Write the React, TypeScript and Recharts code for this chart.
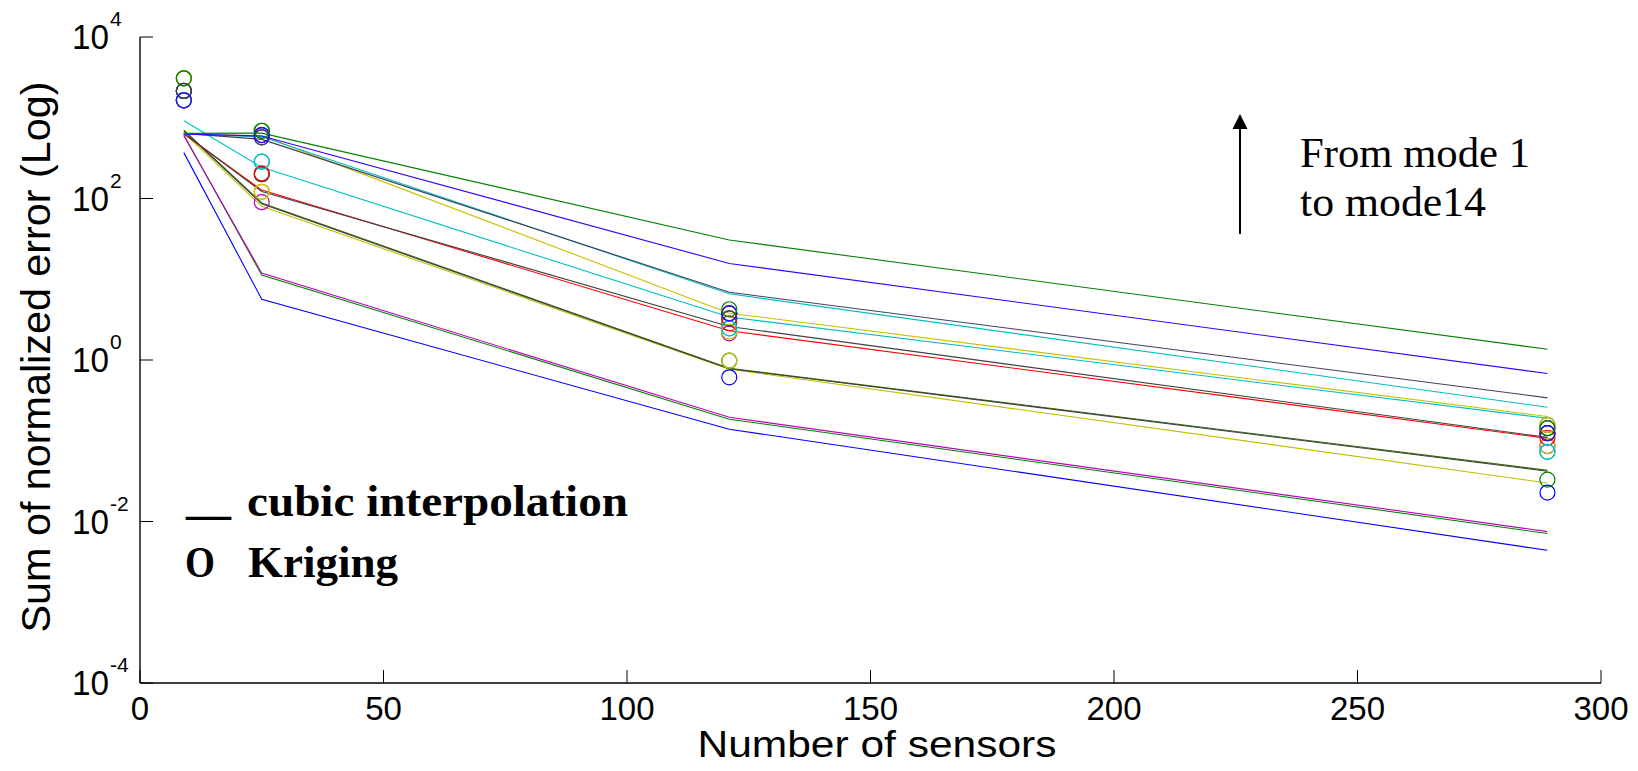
import React from 'react';
import { ComposedChart, Line, XAxis, YAxis } from 'recharts';

// Number of sensors (x positions of the samples)
const sensors = [9, 25, 121, 289];

// Cubic interpolation error per mode (lines)
const cubic1 = [370, 5.65, 0.139, 0.0044];
const cubic2 = [610, 11.3, 0.185, 0.0071];
const cubic3 = [600, 11.9, 0.195, 0.0075];
const cubic4 = [650, 80, 0.77, 0.03];
const cubic5 = [700, 88, 0.79, 0.043];
const cubic6 = [690, 86, 0.78, 0.042];
const cubic7 = [630, 127, 2.3, 0.107];
const cubic8 = [640, 122, 2.6, 0.11];
const cubic9 = [920, 243, 3.4, 0.19];
const cubic10 = [630, 600, 3.8, 0.2];
const cubic11 = [630, 580, 6.6, 0.26];
const cubic12 = [640, 540, 6.9, 0.34];
const cubic13 = [630, 594, 15.7, 0.68];
const cubic14 = [640, 645, 30.6, 1.36];

// Kriging error per mode (circles)
const kriging1 = [1645, 611, 0.61, 0.0228];
const kriging2 = [2150, 690, 0.98, 0.033];
const kriging3 = [1645, 90, 2.14, 0.086];
const kriging4 = [3080, 121, 0.98, 0.086];
const kriging5 = [3080, 200, 3.28, 0.157];
const kriging6 = [2150, 200, 3.28, 0.143];
const kriging7 = [1645, 205, 2.85, 0.109];
const kriging8 = [2150, 572, 3.78, 0.124];
const kriging9 = [1645, 286, 2.47, 0.073];
const kriging10 = [3080, 121, 2.24, 0.157];
const kriging11 = [1645, 286, 2.47, 0.073];
const kriging12 = [2150, 572, 3.78, 0.124];
const kriging13 = [1645, 611, 3.78, 0.124];
const kriging14 = [3080, 690, 4.25, 0.143];

const modeColors = [
  '#0000FF', '#008000', '#BF00BF', '#BFBF00', '#2F6A00', '#404040', '#FF0000',
  '#404040', '#00BFBF', '#C8C000', '#00BFBF', '#404060', '#3300FF', '#008000',
];

const xTicks = [0, 50, 100, 150, 200, 250, 300];
const yTicks = [1e-4, 1e-2, 1, 1e2, 1e4];

const xLabel = 'Number of sensors';
const yLabel = 'Sum of normalized error (Log)';
const legendLine = 'cubic interpolation';
const legendCircle = 'Kriging';
const noteLine1 = 'From mode 1';
const noteLine2 = 'to mode14';

const cubicSeries = [cubic1, cubic2, cubic3, cubic4, cubic5, cubic6, cubic7, cubic8, cubic9, cubic10, cubic11, cubic12, cubic13, cubic14];
const krigingSeries = [kriging1, kriging2, kriging3, kriging4, kriging5, kriging6, kriging7, kriging8, kriging9, kriging10, kriging11, kriging12, kriging13, kriging14];

const data = sensors.map((s, i) => {
  const row: Record<string, number> = { sensors: s };
  cubicSeries.forEach((arr, m) => { row['c' + (m + 1)] = arr[i]; });
  krigingSeries.forEach((arr, m) => { row['k' + (m + 1)] = arr[i]; });
  return row;
});

const SANS = '"Liberation Sans", Arial, Helvetica, sans-serif';
const SERIF = '"Liberation Serif", "Times New Roman", serif';

const XTick = (props: any) => {
  const { x, y, payload } = props;
  return (
    <g>
      <line x1={x} x2={x} y1={y} y2={y - 13} stroke="#000" strokeWidth={1} />
      <text x={x} y={y + 37} textAnchor="middle" fontSize={33} fontFamily={SANS} fill="#000">
        {payload.value}
      </text>
    </g>
  );
};

const YTick = (props: any) => {
  const { x, y, payload } = props;
  const exp = Math.round(Math.log10(payload.value));
  return (
    <g>
      <line x1={x} x2={x + 13} y1={y} y2={y} stroke="#000" strokeWidth={1} />
      <text x={x - 68} y={y + 12} fontSize={35} fontFamily={SANS} fill="#000" textLength={37} lengthAdjust="spacingAndGlyphs">
        10
      </text>
      <text x={x - 30} y={y - 11} fontSize={21} fontFamily={SANS} fill="#000">
        {String(exp)}
      </text>
    </g>
  );
};

const makeCircle = (color: string, m: number) => (p: any) => {
  if (p.cx == null || p.cy == null) return <g key={`e${m}-${p.index}`} />;
  return (
    <circle
      key={`k${m}-${p.index}`}
      cx={p.cx}
      cy={p.cy}
      r={7.5}
      fill="none"
      stroke={color}
      strokeWidth={1.2}
    />
  );
};

export default function App() {
  return (
    <div style={{ position: 'absolute', left: 0, top: 0, width: 1638, height: 771, background: '#fff' }}>
      <ComposedChart
        width={1638}
        height={771}
        data={data}
        margin={{ top: 37, right: 37, bottom: 28, left: 40 }}
      >
        <XAxis
          dataKey="sensors"
          type="number"
          domain={[0, 300]}
          ticks={xTicks}
          interval={0}
          allowDataOverflow
          height={60}
          tickSize={0}
          tickMargin={0}
          tickLine={false}
          axisLine={{ stroke: '#000', strokeWidth: 1.4 }}
          tick={<XTick />}
        />
        <XAxis
          xAxisId="top"
          orientation="top"
          dataKey="sensors"
          type="number"
          domain={[0, 300]}
          allowDataOverflow
          height={0}
          tick={false}
          tickLine={false}
          axisLine={{ stroke: '#000', strokeWidth: 1.2 }}
        />
        <YAxis
          type="number"
          scale="log"
          domain={[1e-4, 1e4]}
          ticks={yTicks}
          interval={0}
          allowDataOverflow
          width={100}
          tickSize={0}
          tickMargin={0}
          tickLine={false}
          axisLine={{ stroke: '#000', strokeWidth: 1.4 }}
          tick={<YTick />}
        />
        <YAxis
          yAxisId="right"
          orientation="right"
          type="number"
          scale="log"
          domain={[1e-4, 1e4]}
          allowDataOverflow
          width={0}
          tick={false}
          tickLine={false}
          axisLine={{ stroke: '#000', strokeWidth: 1.2 }}
        />
        {cubicSeries.map((_, m) => (
          <Line
            key={`c${m}`}
            type="linear"
            dataKey={`c${m + 1}`}
            stroke={modeColors[m]}
            strokeWidth={1.1}
            dot={false}
            activeDot={false}
            isAnimationActive={false}
          />
        ))}
        {krigingSeries.map((_, m) => (
          <Line
            key={`k${m}`}
            type="linear"
            dataKey={`k${m + 1}`}
            stroke="none"
            strokeWidth={0}
            dot={makeCircle(modeColors[m], m)}
            activeDot={false}
            isAnimationActive={false}
          />
        ))}
      </ComposedChart>
      <svg
        width={1638}
        height={771}
        style={{ position: 'absolute', left: 0, top: 0, pointerEvents: 'none' }}
      >
        <text x={877} y={757} textAnchor="middle" fontSize={36} fontFamily={SANS} textLength={359} lengthAdjust="spacingAndGlyphs">
          {xLabel}
        </text>
        <text
          x={50}
          y={357}
          transform="rotate(-90, 50, 357)"
          textAnchor="middle"
          fontSize={40}
          fontFamily={SANS}
          textLength={551}
          lengthAdjust="spacingAndGlyphs"
        >
          {yLabel}
        </text>
        <text x={186} y={514} fontSize={45} fontWeight="bold" fontFamily={SERIF}>__</text>
        <text x={247} y={516} fontSize={45} fontWeight="bold" fontFamily={SERIF} textLength={381} lengthAdjust="spacingAndGlyphs">
          {legendLine}
        </text>
        <text x={185} y={577} fontSize={44} fontWeight="bold" fontFamily={SERIF} textLength={30} lengthAdjust="spacingAndGlyphs">O</text>
        <text x={248} y={577} fontSize={45} fontWeight="bold" fontFamily={SERIF}>{legendCircle}</text>
        <line x1={1240} y1={234} x2={1240} y2={126} stroke="#000" strokeWidth={2} />
        <polygon points="1240,114 1232.5,129 1247.5,129" fill="#000" />
        <text x={1300} y={167} fontSize={42} fontFamily={SERIF} textLength={230} lengthAdjust="spacingAndGlyphs">{noteLine1}</text>
        <text x={1300} y={216} fontSize={42} fontFamily={SERIF} textLength={186} lengthAdjust="spacingAndGlyphs">{noteLine2}</text>
      </svg>
    </div>
  );
}
